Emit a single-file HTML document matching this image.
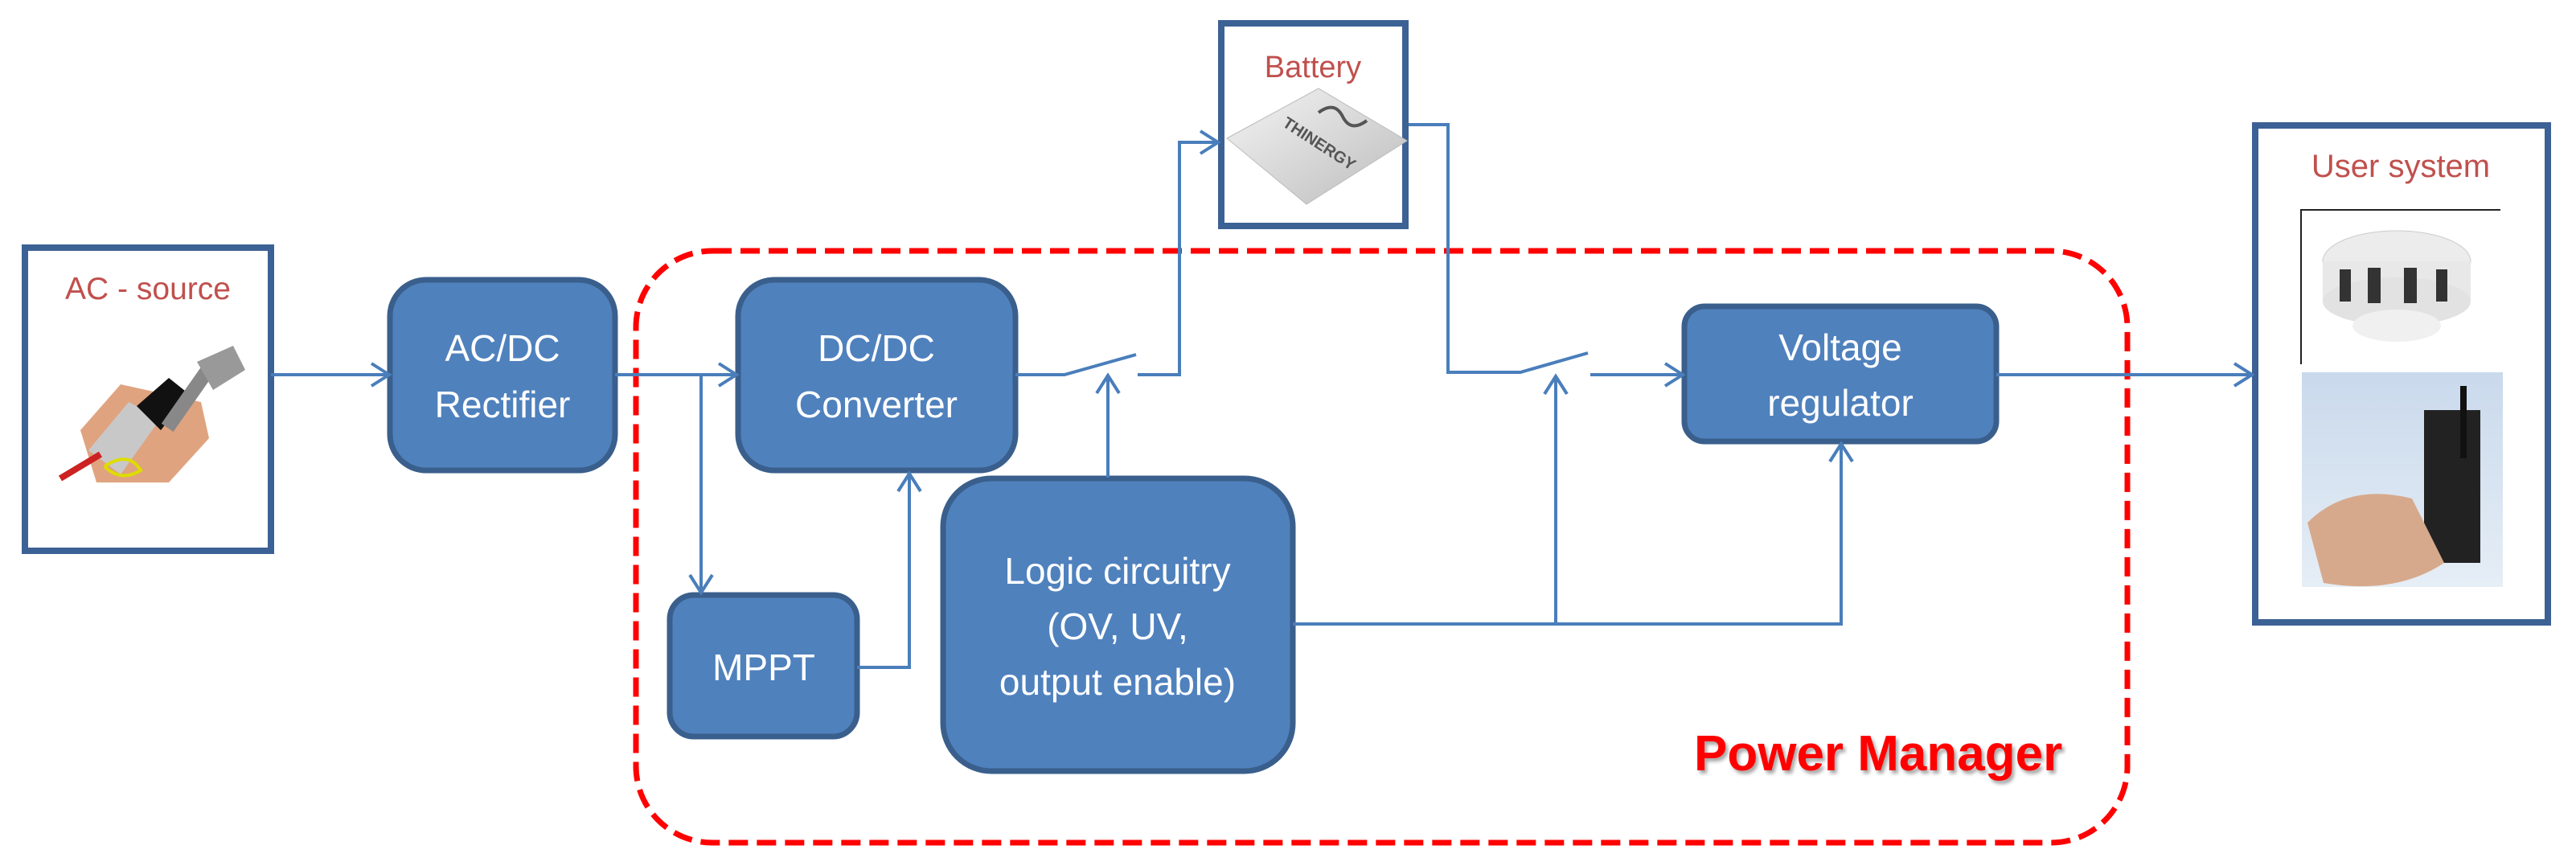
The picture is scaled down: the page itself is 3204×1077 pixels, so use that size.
<!DOCTYPE html>
<html><head><meta charset="utf-8"><style>
html,body{margin:0;padding:0;background:#fff;}
svg{display:block;}
text{font-family:"Liberation Sans",sans-serif;}
</style></head><body>
<svg width="3204" height="1077" viewBox="0 0 3204 1077" xmlns="http://www.w3.org/2000/svg">
<defs>
<filter id="sh" x="-5%" y="-20%" width="110%" height="140%"><feDropShadow dx="3" dy="4" stdDeviation="2" flood-color="#000" flood-opacity="0.35"/></filter>
<linearGradient id="bat" x1="0" y1="0" x2="1" y2="1"><stop offset="0" stop-color="#f4f4f4"/><stop offset="0.5" stop-color="#d8d8d8"/><stop offset="1" stop-color="#bcbcbc"/></linearGradient>
<linearGradient id="sky" x1="0" y1="0" x2="0" y2="1"><stop offset="0" stop-color="#c9d9ec"/><stop offset="1" stop-color="#e6eef6"/></linearGradient>
</defs>

<!-- Power manager dashed -->
<rect x="791" y="312" width="1855" height="736" rx="95" fill="none" stroke="#ff0000" stroke-width="7" stroke-dasharray="24,11"/>
<text x="2107" y="958" font-size="62" font-weight="bold" fill="#ff0000" filter="url(#sh)">Power Manager</text>

<!-- AC source -->
<rect x="31" y="308" width="306" height="377" fill="#fff" stroke="#3c6195" stroke-width="8"/>
<text x="184" y="372" font-size="39" fill="#c0504d" text-anchor="middle">AC - source</text>
<g>
<polygon points="100,535 150,478 250,500 260,545 210,600 120,600" fill="#e0a37f"/>
<polygon points="110,560 160,500 200,520 150,590" fill="#c8c8c8"/>
<polygon points="170,505 210,470 235,490 200,535" fill="#111"/>
<rect x="225" y="450" width="18" height="90" fill="#888" transform="rotate(35 234 495)"/>
<polygon points="245,450 290,430 305,460 265,485" fill="#999"/>
<path d="M75,595 L125,565" stroke="#c22" stroke-width="8"/>
<path d="M130,580 Q160,560 175,585 Q150,600 130,580" stroke="#dd0" stroke-width="4" fill="none"/>
</g>

<!-- Blue boxes -->
<g fill="#4f81bd" stroke="#3a5f8c" stroke-width="7">
<rect x="485" y="348" width="280" height="237" rx="45"/>
<rect x="918" y="348" width="345" height="237" rx="45"/>
<rect x="833" y="740" width="233" height="176" rx="30"/>
<rect x="1173" y="595" width="435" height="364" rx="60"/>
<rect x="2095" y="381" width="388" height="168" rx="25"/>
</g>
<g fill="#fff" font-size="46" text-anchor="middle">
<text x="625" y="449">AC/DC</text><text x="625" y="519">Rectifier</text>
<text x="1090" y="449">DC/DC</text><text x="1090" y="519">Converter</text>
<text x="950" y="846">MPPT</text>
<text x="1390" y="726">Logic circuitry</text>
<text x="1390" y="795">(OV, UV,</text>
<text x="1390" y="864">output enable)</text>
<text x="2289" y="448">Voltage</text>
<text x="2289" y="517">regulator</text>
</g>

<!-- Battery -->
<rect x="1519" y="29" width="229" height="252" fill="#fff" stroke="#3c6195" stroke-width="8"/>
<text x="1633" y="96" font-size="38" fill="#c0504d" text-anchor="middle">Battery</text>
<polygon points="1526,172 1640,110 1750,175 1625,254" fill="url(#bat)" stroke="#bbb" stroke-width="1"/>
<text x="1640" y="185" font-size="20" font-weight="bold" fill="#555" text-anchor="middle" transform="rotate(33 1640 180)">THINERGY</text>
<path d="M1640,140 q20,-15 30,5 q10,20 30,5" stroke="#555" stroke-width="4" fill="none"/>

<!-- User system -->
<rect x="2805" y="156" width="364" height="618" fill="#fff" stroke="#3c6195" stroke-width="8"/>
<text x="2986" y="220" font-size="40" fill="#c0504d" text-anchor="middle">User system</text>
<path d="M2862,453 L2862,261 L3110,261" stroke="#222" stroke-width="2" fill="none"/>
<ellipse cx="2981" cy="325" rx="92" ry="38" fill="#ececec" stroke="#ccc"/>
<rect x="2889" y="325" width="184" height="50" fill="#e8e8e8"/>
<ellipse cx="2981" cy="375" rx="92" ry="30" fill="#e2e2e2"/>
<g fill="#333"><rect x="2910" y="335" width="14" height="40"/><rect x="2945" y="333" width="16" height="44"/><rect x="2990" y="333" width="16" height="44"/><rect x="3030" y="335" width="14" height="40"/></g>
<ellipse cx="2981" cy="405" rx="55" ry="20" fill="#f0f0f0"/>
<rect x="2863" y="463" width="250" height="267" fill="url(#sky)"/>
<rect x="3015" y="510" width="70" height="190" fill="#222"/>
<rect x="3060" y="480" width="8" height="90" fill="#111"/>
<path d="M2870,650 Q2920,600 3000,620 L3040,700 Q2980,740 2890,725 Z" fill="#d7a98c"/>

<!-- Connectors -->
<g stroke="#4a7ebb" stroke-width="4" fill="none" stroke-linejoin="miter">
<path d="M337,466 H484"/><path d="M462,452 L484,466 L462,480"/>
<path d="M765,466 H916"/><path d="M894,452 L916,466 L894,480"/>
<path d="M872,466 V737"/><path d="M858,715 L872,737 L886,715"/>
<path d="M1066,830 H1131 V589"/><path d="M1117,611 L1131,589 L1145,611"/>
<path d="M1263,466 H1324 L1413,441"/>
<path d="M1415,466 H1467 V177 H1515"/><path d="M1493,163 L1515,177 L1493,191"/>
<path d="M1378,594 V467"/><path d="M1364,489 L1378,467 L1392,489"/>
<path d="M1752,155 H1801 V463 H1891 L1975,439"/>
<path d="M1978,466 H2093"/><path d="M2071,452 L2093,466 L2071,480"/>
<path d="M1608,776 H2290 V552"/><path d="M2276,574 L2290,552 L2304,574"/>
<path d="M1935,776 V468"/><path d="M1921,490 L1935,468 L1949,490"/>
<path d="M2483,466 H2801"/><path d="M2779,452 L2801,466 L2779,480"/>
</g>
</svg>
</body></html>
